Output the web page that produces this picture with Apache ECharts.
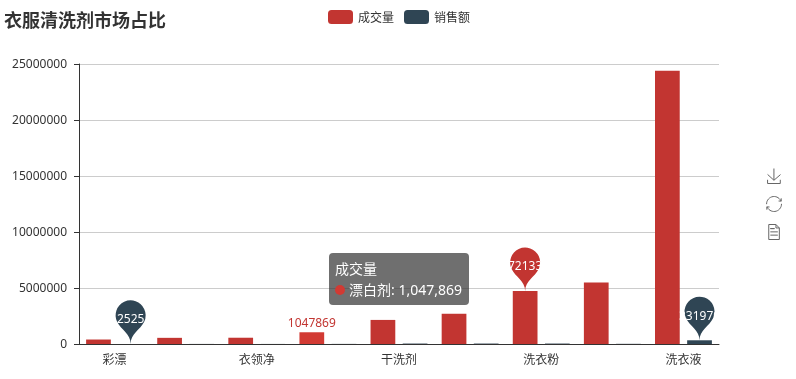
<!DOCTYPE html>
<html><head><meta charset="utf-8">
<style>html,body{margin:0;padding:0;background:#fff}#c{width:796px;height:379px}</style>
<script src="https://cdn.jsdelivr.net/npm/echarts@6/dist/echarts.min.js"></script>
</head><body><div id="c"></div>
<script>
const categories=['彩漂','去渍剂','衣领净','漂白剂','干洗剂','柔顺剂','洗衣粉','消毒液','洗衣液'];
const volume=[400000,550000,560000,1047869,2150000,2700000,4721330,5500000,24400000];
const sales=[2525,6000,5000,9000,40000,40000,40000,15000,331970];
const titleText='衣服清洗剂市场占比';
const highlightIndex=3;
const pinnedVolumeIndex=6;
const FONT='"Noto Sans","Noto Sans CJK SC",sans-serif';
const chart=echarts.init(document.getElementById('c'),null,{renderer:'canvas'});
const pinLabel={color:'#fff',fontSize:12,fontFamily:FONT,offset:[0,2]};
chart.setOption({
  animation:false,
  color:['#c23531','#2f4554'],
  textStyle:{fontFamily:FONT},
  title:{text:titleText,left:-1,top:8,padding:[5,5],textStyle:{fontSize:18,fontWeight:'bold',color:'#333',fontFamily:FONT}},
  legend:{top:5,left:323,itemWidth:25,itemHeight:14,itemGap:10,icon:'roundRect',
    formatter:n=>'{t|'+n+'}',
    textStyle:{fontSize:12,color:'#333',fontFamily:FONT,rich:{t:{fontSize:12,color:'#333',fontFamily:FONT,padding:[3,0,0,0]}}},data:['成交量','销售额']},
  toolbox:{show:true,orient:'vertical',right:-3,top:151,itemSize:15,itemGap:8,
    iconStyle:{borderColor:'#666',color:'none'},
    feature:{saveAsImage:{},restore:{},dataView:{}}},
  tooltip:{trigger:'item',alwaysShowContent:true,backgroundColor:'rgba(50,50,50,0.7)',borderWidth:0,padding:[5,7,5,6],extraCssText:'box-shadow:none;border-radius:4px;',
    textStyle:{color:'#fff',fontSize:14,fontFamily:FONT},
    position:[329,253],
    formatter:p=>p.seriesName+'<br/>'+p.marker+p.name+': '+p.value.toLocaleString('en-US')},
  grid:{left:79,right:77,top:64,bottom:35},
  xAxis:{type:'category',data:categories,
    axisLine:{lineStyle:{color:'#333'}},
    axisTick:{alignWithLabel:true,interval:i=>i%2===1,lineStyle:{color:'#333'}},
    axisLabel:{interval:i=>i%2===0,color:'#333',fontSize:12,margin:11,fontFamily:FONT}},
  yAxis:{type:'value',min:0,max:25000000,interval:5000000,
    axisLine:{show:true,lineStyle:{color:'#333'}},axisTick:{show:true,lineStyle:{color:'#333'}},
    axisLabel:{color:'#333',fontSize:12,margin:12,fontFamily:FONT,formatter:v=>'{t|'+v+'}',rich:{t:{fontSize:12,color:'#333',fontFamily:FONT,padding:[2,0,0,0]}}},splitLine:{lineStyle:{color:'#ccc'}}},
  series:[
    {name:'成交量',type:'bar',barGap:'30%',barCategoryGap:'20%',
     data:volume.map((v,i)=>i===highlightIndex?{value:v,label:{show:true,position:'top',color:'#c23531',fontFamily:FONT,offset:[0,2]},itemStyle:{color:'#d23a33'}}:v),
     itemStyle:{color:'#c23531'},emphasis:{disabled:true},
     markPoint:{symbol:'pin',symbolSize:50,label:pinLabel,data:[{coord:[pinnedVolumeIndex,volume[pinnedVolumeIndex]],value:volume[pinnedVolumeIndex]}]}},
    {name:'销售额',type:'bar',barGap:'30%',barCategoryGap:'20%',data:sales,itemStyle:{color:'#2f4554'},emphasis:{disabled:true},
     markPoint:{symbol:'pin',symbolSize:50,label:pinLabel,data:[{type:'min'},{type:'max'}]}}
  ]
});
chart.dispatchAction({type:'showTip',seriesIndex:0,dataIndex:highlightIndex});
</script></body></html>
